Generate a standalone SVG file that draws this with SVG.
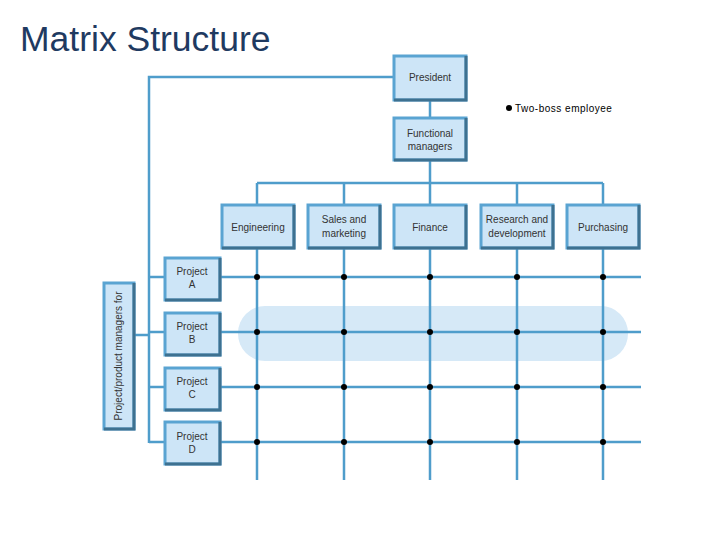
<svg xmlns="http://www.w3.org/2000/svg" width="720" height="540" viewBox="0 0 720 540">
<style>
.box{fill:#cde5f7;stroke:#5aa4d2;stroke-width:3}
.sh{fill:none;stroke:#3e7190;stroke-width:3}
.ln{fill:none;stroke:#4f9dcb;stroke-width:2.5}
.t{font-family:"Liberation Sans",Arial,sans-serif;font-size:10px;fill:#333;text-anchor:middle}
.dot{fill:#000}
</style>
<rect width="720" height="540" fill="#fff"/>
<text x="20" y="51" font-family="Liberation Sans,Arial,sans-serif" font-size="35.5" fill="#1f3a61">Matrix Structure</text>
<rect x="238" y="306" width="390" height="55" rx="27" fill="#d6e9f7"/>
<g id="connectors">
<path class="ln" d="M393 77H149V443M430 101V117M430 161V183M257 183H603M257 183V204M344 183V204M430 183V204M517 183V204M603 183V204"/>
<path class="ln" d="M257 249V480M344 249V480M430 249V480M517 249V480M603 249V480"/>
<path class="ln" d="M134 335H149M149 277H164M149 332H164M149 387H164M149 442H164"/>
<path class="ln" d="M220 277H641M220 332H641M220 387H641M220 442H641"/>
</g>
<g id="dots">
<circle class="dot" cx="257" cy="277" r="3"/><circle class="dot" cx="344" cy="277" r="3"/><circle class="dot" cx="430" cy="277" r="3"/><circle class="dot" cx="517" cy="277" r="3"/><circle class="dot" cx="603" cy="277" r="3"/>
<circle class="dot" cx="257" cy="332" r="3"/><circle class="dot" cx="344" cy="332" r="3"/><circle class="dot" cx="430" cy="332" r="3"/><circle class="dot" cx="517" cy="332" r="3"/><circle class="dot" cx="603" cy="332" r="3"/>
<circle class="dot" cx="257" cy="387" r="3"/><circle class="dot" cx="344" cy="387" r="3"/><circle class="dot" cx="430" cy="387" r="3"/><circle class="dot" cx="517" cy="387" r="3"/><circle class="dot" cx="603" cy="387" r="3"/>
<circle class="dot" cx="257" cy="442" r="3"/><circle class="dot" cx="344" cy="442" r="3"/><circle class="dot" cx="430" cy="442" r="3"/><circle class="dot" cx="517" cy="442" r="3"/><circle class="dot" cx="603" cy="442" r="3"/>
</g>
<g id="president"><rect class="box" x="394" y="56" width="72" height="44"/><path class="sh" d="M394 100H466V56"/><text class="t" x="430" y="81">President</text></g>
<g id="functional"><rect class="box" x="394" y="118" width="72" height="42"/><path class="sh" d="M394 160H466V118"/><text class="t" x="430" y="137">Functional</text><text class="t" x="430" y="150">managers</text></g>
<g id="engineering"><rect class="box" x="222" y="205" width="72" height="43"/><path class="sh" d="M222 248H294V205"/><text class="t" x="258" y="231">Engineering</text></g>
<g id="sales"><rect class="box" x="308" y="205" width="72" height="43"/><path class="sh" d="M308 248H380V205"/><text class="t" x="344" y="223">Sales and</text><text class="t" x="344" y="237">marketing</text></g>
<g id="finance"><rect class="box" x="394" y="205" width="72" height="43"/><path class="sh" d="M394 248H466V205"/><text class="t" x="430" y="231">Finance</text></g>
<g id="rnd"><rect class="box" x="481" y="205" width="72" height="43"/><path class="sh" d="M481 248H553V205"/><text class="t" x="517" y="223">Research and</text><text class="t" x="517" y="237">development</text></g>
<g id="purchasing"><rect class="box" x="567" y="205" width="72" height="43"/><path class="sh" d="M567 248H639V205"/><text class="t" x="603" y="231">Purchasing</text></g>
<g id="pm"><rect class="box" x="104" y="283" width="30" height="146"/><path class="sh" d="M104 429H134V283"/><text class="t" transform="translate(122 356) rotate(-90)">Project/product managers for</text></g>
<g id="projA"><rect class="box" x="165" y="258" width="55" height="42"/><path class="sh" d="M165 300H220V258"/><text class="t" x="192" y="275">Project</text><text class="t" x="192" y="288">A</text></g>
<g id="projB"><rect class="box" x="165" y="313" width="55" height="42"/><path class="sh" d="M165 355H220V313"/><text class="t" x="192" y="330">Project</text><text class="t" x="192" y="343">B</text></g>
<g id="projC"><rect class="box" x="165" y="368" width="55" height="42"/><path class="sh" d="M165 410H220V368"/><text class="t" x="192" y="385">Project</text><text class="t" x="192" y="398">C</text></g>
<g id="projD"><rect class="box" x="165" y="422" width="55" height="42"/><path class="sh" d="M165 464H220V422"/><text class="t" x="192" y="440">Project</text><text class="t" x="192" y="453">D</text></g>
<g id="legend"><circle class="dot" cx="509" cy="108" r="3"/><text x="515" y="112" font-family="Liberation Sans,Arial,sans-serif" font-size="10" letter-spacing="0.5" fill="#000">Two-boss employee</text></g>
</svg>
